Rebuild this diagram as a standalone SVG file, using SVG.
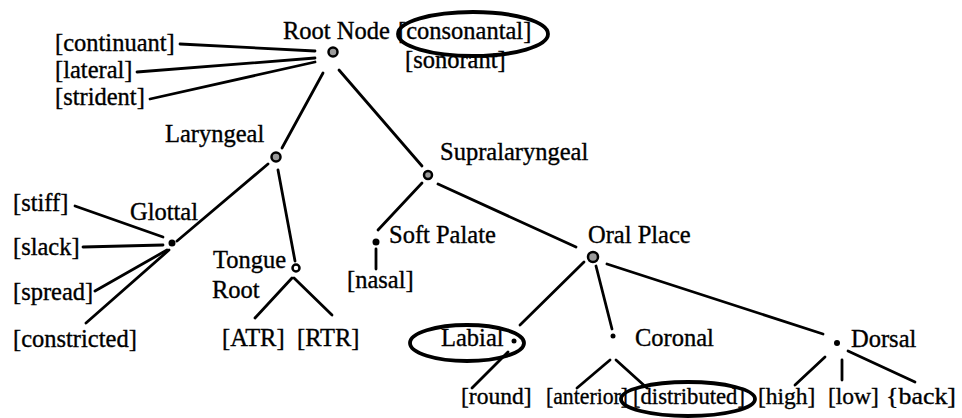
<svg xmlns="http://www.w3.org/2000/svg" width="962" height="418" viewBox="0 0 962 418">
<style>
text{font-family:"Liberation Serif","Times New Roman",serif;font-size:24.5px;fill:#000;stroke:#000;stroke-width:0.35}
text.b{font-size:23.5px}
.ln{stroke:#000;stroke-width:2.8;fill:none;stroke-linecap:round}
.ring{fill:#9a9a9a;stroke:#000;stroke-width:2.5}
.hollow{fill:#fff;stroke:#000;stroke-width:2.5}
.dot{fill:#000}
.oval{fill:none;stroke:#000;stroke-width:3.8}
</style>
<rect width="962" height="418" fill="#fff"/>
<g id="connectors">
<line class="ln" x1="180" y1="44" x2="315" y2="51"/>
<line class="ln" x1="137" y1="72" x2="315" y2="58"/>
<line class="ln" x1="150" y1="99" x2="315" y2="62"/>
<line class="ln" x1="323" y1="73" x2="282" y2="148"/>
<line class="ln" x1="339" y1="70" x2="422" y2="166"/>
<line class="ln" x1="268" y1="164" x2="177" y2="241"/>
<line class="ln" x1="278" y1="170" x2="295" y2="261" stroke-width="3.2"/>
<line class="ln" x1="75" y1="206" x2="163" y2="237"/>
<line class="ln" x1="83" y1="247" x2="163" y2="245"/>
<line class="ln" x1="167" y1="250" x2="95" y2="291"/>
<line class="ln" x1="169" y1="250" x2="86" y2="323"/>
<line class="ln" x1="292" y1="278" x2="255" y2="318"/>
<line class="ln" x1="294" y1="278" x2="332" y2="315"/>
<line class="ln" x1="422" y1="183" x2="378" y2="230"/>
<line class="ln" x1="376" y1="249" x2="376" y2="269"/>
<line class="ln" x1="438" y1="184" x2="576" y2="247"/>
<line class="ln" x1="584" y1="262" x2="520" y2="325"/>
<line class="ln" x1="596" y1="266" x2="612" y2="329" stroke-width="3.2"/>
<line class="ln" x1="607" y1="264" x2="823" y2="334"/>
<line class="ln" x1="508" y1="352" x2="472" y2="388"/>
<line class="ln" x1="610" y1="360" x2="577" y2="388"/>
<line class="ln" x1="616" y1="360" x2="647" y2="388"/>
<line class="ln" x1="825" y1="357" x2="795" y2="385"/>
<line class="ln" x1="842" y1="360" x2="842" y2="380"/>
<line class="ln" x1="848" y1="351" x2="915" y2="382"/>
</g>
<g id="root-node">
<circle class="ring" cx="333" cy="52" r="4.5"/>
<text x="283" y="39">Root Node</text>
</g>
<g id="consonantal">
<text x="398" y="39">[consonantal]</text>
<ellipse class="oval" cx="473" cy="34" rx="75" ry="22"/>
</g>
<g id="sonorant"><text x="405" y="68">[sonorant]</text></g>
<g id="continuant"><text x="55" y="51">[continuant]</text></g>
<g id="lateral"><text x="55" y="78">[lateral]</text></g>
<g id="strident"><text x="55" y="105">[strident]</text></g>
<g id="laryngeal">
<circle class="ring" cx="276" cy="157" r="4.5"/>
<text x="165" y="142">Laryngeal</text>
</g>
<g id="supralaryngeal">
<circle class="ring" cx="428" cy="175" r="4"/>
<text x="440" y="160">Supralaryngeal</text>
</g>
<g id="glottal">
<circle class="dot" cx="172" cy="243" r="3.5"/>
<text x="130" y="220">Glottal</text>
</g>
<g id="stiff"><text x="13" y="211">[stiff]</text></g>
<g id="slack"><text x="13" y="255">[slack]</text></g>
<g id="spread"><text x="13" y="300">[spread]</text></g>
<g id="constricted"><text x="13" y="347">[constricted]</text></g>
<g id="tongue-root">
<circle class="hollow" cx="296" cy="268" r="3.5"/>
<text x="213" y="268">Tongue</text>
<text x="212" y="298">Root</text>
</g>
<g id="atr"><text x="222" y="346">[ATR]</text></g>
<g id="rtr"><text x="297" y="346">[RTR]</text></g>
<g id="soft-palate">
<circle class="dot" cx="376" cy="242" r="3.5"/>
<text x="389" y="243">Soft Palate</text>
</g>
<g id="nasal"><text x="347" y="288">[nasal]</text></g>
<g id="oral-place">
<circle class="ring" cx="593" cy="257" r="5"/>
<text x="588" y="243">Oral Place</text>
</g>
<g id="labial">
<circle class="dot" cx="514" cy="341" r="2.5"/>
<text x="441" y="346">Labial</text>
<ellipse class="oval" cx="467" cy="343" rx="57" ry="18"/>
</g>
<g id="coronal">
<circle class="dot" cx="613" cy="336" r="2.5"/>
<text x="635" y="346">Coronal</text>
</g>
<g id="dorsal">
<circle class="dot" cx="837" cy="343" r="3"/>
<text x="851" y="347">Dorsal</text>
</g>
<g id="round"><text class="b" x="461" y="404">[round]</text></g>
<g id="anterior"><text class="b" x="546" y="404" textLength="82" lengthAdjust="spacingAndGlyphs">[anterior]</text></g>
<g id="distributed">
<text class="b" x="633" y="404" textLength="112" lengthAdjust="spacingAndGlyphs">[distributed]</text>
<ellipse class="oval" cx="688" cy="399" rx="67" ry="17"/>
</g>
<g id="high"><text class="b" x="758" y="404">[high]</text></g>
<g id="low"><text class="b" x="828" y="404">[low]</text></g>
<g id="back"><text class="b" x="886" y="404" textLength="70" lengthAdjust="spacingAndGlyphs">{back]</text></g>
</svg>
